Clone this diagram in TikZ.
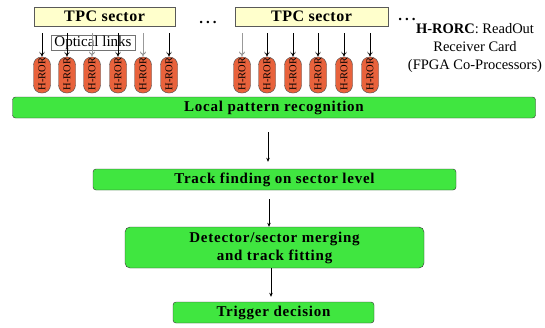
\documentclass[tikz,border=0pt]{standalone}
\usepackage{fontspec}
\setmainfont{Liberation Serif}
\usetikzlibrary{arrows.meta}
\definecolor{boxgreen}{HTML}{40E640}
\definecolor{rorcred}{HTML}{E8623C}
\definecolor{tpcyellow}{HTML}{FFFFCC}
\begin{document}
\begin{tikzpicture}[x=1pt,y=-1pt,
  tpcbox/.style={draw=black!65,fill=tpcyellow,inner sep=0pt,minimum height=19pt,
    font=\bfseries\fontsize{16}{16}\selectfont\addfontfeatures{LetterSpace=3}},
  stagebox/.style={draw=black!80,fill=boxgreen,rounded corners=3pt,inner sep=0pt,align=center,
    font=\bfseries\fontsize{15}{18}\selectfont\addfontfeatures{LetterSpace=5}},
  rorc/.style={draw=black!70,fill=rorcred,rounded corners=8pt,minimum width=17pt,minimum height=36pt,inner sep=0pt,
    path picture={\node[rotate=90,anchor=west,inner sep=0pt,font=\fontsize{10.5}{10.5}\selectfont]
      at ([yshift=2.5pt]path picture bounding box.south) {H-RORC};}},
  feed/.style={-{Stealth[length=4pt,width=3.5pt]},black,line width=0.6pt},
  feedgray/.style={-{Stealth[length=4pt,width=3.5pt]},black!40,line width=0.6pt},
  hook/.style={black!70,line width=0.5pt},
  dotstext/.style={font=\bfseries\fontsize{15}{15}\selectfont,inner sep=0pt}
]
\useasboundingbox (0,0) rectangle (545,327);
\fill[white] (0,0) rectangle (545,327);

% TPC sectors
\node[tpcbox,minimum width=141pt] (t1) at (104.5,16.5) {TPC sector};
\node[tpcbox,minimum width=153pt] (t2) at (311.5,16.5) {TPC sector};
\node[dotstext] (d1) at (208,22) {.\hspace{3pt}.\hspace{3pt}.};
\node[dotstext] (d2) at (407,19) {.\hspace{3pt}.\hspace{3pt}.};

% Optical links label
\node[draw=black!55,fill=white,minimum width=84pt,minimum height=15pt,inner sep=0pt,
  font=\fontsize{15}{15}\selectfont] (ol) at (93,42.5) {Optical links};

% H-RORC cards
\foreach \i/\x in {1/42,2/67,3/92,4/118,5/143,6/169,7/242,8/267,9/293,10/318,11/344,12/370}{
  \node[rorc] (r\i) at (\x,75) {};
  \draw[hook] ([xshift=-2.5pt,yshift=5pt]r\i.north) arc[start angle=180,end angle=360,radius=2.5pt];
}
\foreach \i in {1,2,4,6}{
  \draw[feed] ([yshift=-7pt]r\i.north |- t1.south) -- (r\i.north);
}
\foreach \i in {3,5}{
  \draw[feedgray] ([yshift=-7pt]r\i.north |- t1.south) -- (r\i.north);
}
\draw[feedgray] ([yshift=-7pt]r7.north |- t2.south) -- (r7.north);
\foreach \i in {8,9,10,11,12}{
  \draw[feed] ([yshift=-7pt]r\i.north |- t2.south) -- (r\i.north);
}

% H-RORC legend
\node[align=center,inner sep=0pt,font=\fontsize{14.5}{18}\selectfont] (leg) at (475,48)
  {\textbf{H-RORC}: ReadOut\\Receiver Card\\(FPGA Co-Processors)};

% Processing stages
\node[stagebox,minimum width=523pt,minimum height=21pt] (s1) at (274,107.5) {Local pattern recognition};
\node[stagebox,minimum width=363pt,minimum height=21pt] (s2) at (274.5,179.5) {Track finding on sector level};
\node[stagebox,minimum width=299pt,minimum height=41pt,rounded corners=5pt] (s3) at (274.5,247.5)
  {Detector/sector merging\\and track fitting};
\node[stagebox,minimum width=201pt,minimum height=21pt] (s4) at (273.5,312.5) {Trigger decision};

\draw[feed] ([xshift=-6pt,yshift=-14pt]s1.south) -- ([xshift=-6.5pt,yshift=7pt]s2.north);
\draw[feed] ([xshift=-5.5pt,yshift=-9pt]s2.south) -- ([xshift=-5.5pt]s3.north);
\draw[feed] ([xshift=-3.5pt]s3.south) -- ([xshift=-2.5pt,yshift=5pt]s4.north);
\end{tikzpicture}
\end{document}
